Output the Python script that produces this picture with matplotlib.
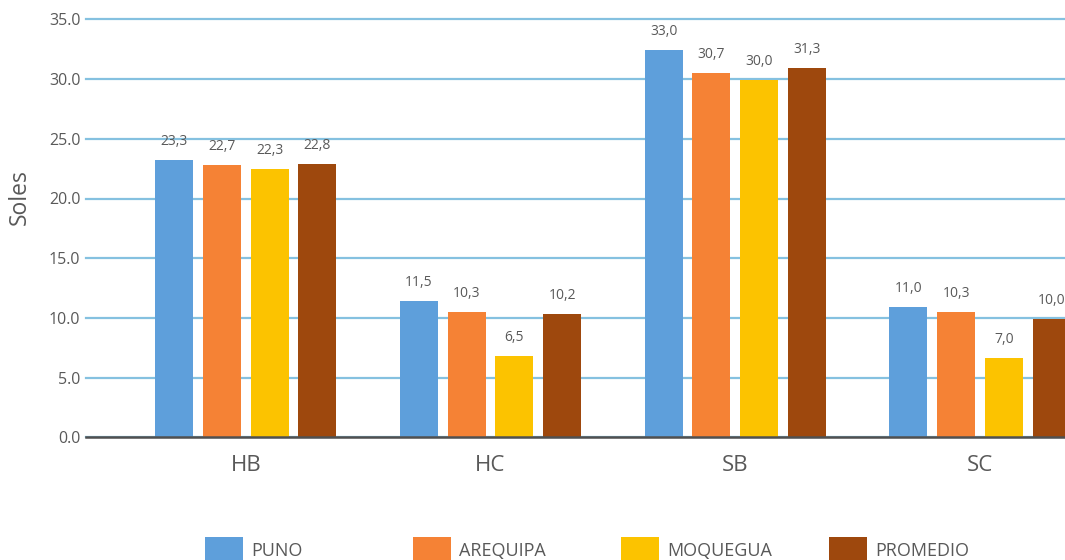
import matplotlib
matplotlib.use("Agg")
import matplotlib.pyplot as plt
from matplotlib.patches import Patch
import numpy as np

plt.rcParams['font.family'] = ['Open Sans', 'DejaVu Sans']

categories = ["HB", "HC", "SB", "SC"]
series = ["PUNO", "AREQUIPA", "MOQUEGUA", "PROMEDIO"]
# bar heights as drawn
values = {
    "PUNO":     [23.2, 11.4, 32.4, 10.9],
    "AREQUIPA": [22.8, 10.5, 30.5, 10.5],
    "MOQUEGUA": [22.5, 6.8, 29.9, 6.6],
    "PROMEDIO": [22.9, 10.3, 30.9, 9.9],
}
# data labels as printed
labels = {
    "PUNO":     ["23,3", "11,5", "33,0", "11,0"],
    "AREQUIPA": ["22,7", "10,3", "30,7", "10,3"],
    "MOQUEGUA": ["22,3", "6,5", "30,0", "7,0"],
    "PROMEDIO": ["22,8", "10,2", "31,3", "10,0"],
}
colors = {"PUNO": "#5E9FDB", "AREQUIPA": "#F58235", "MOQUEGUA": "#FCC300", "PROMEDIO": "#9E480D"}
yticks = [0, 5, 10, 15, 20, 25, 30, 35]

W, H = 1065, 560
fig = plt.figure(figsize=(W / 100, H / 100), dpi=100)
ax = fig.add_axes([86 / W, (H - 437.3) / H, (W - 86) / W, (437.3 - 19.4) / H])

txt = "#595959"
x = np.arange(len(categories))
step = 0.195
bw = 0.1553
for i, s in enumerate(series):
    pos = x + (i - 1.5) * step
    bars = ax.bar(pos, values[s], width=bw, color=colors[s], zorder=3)
    for b, lab in zip(bars, labels[s]):
        ax.annotate(lab, (b.get_x() + b.get_width() / 2, b.get_height()),
                    xytext=(0, 8), textcoords="offset points",
                    ha="center", va="bottom", fontsize=10, color=txt)

ax.set_xlim(-0.6528, 3.347)
ax.set_ylim(0, 35)
ax.set_yticks(yticks)
ax.set_yticklabels([f"{v:.1f}" for v in yticks])
ax.set_xticks(x)
ax.set_xticklabels(categories)
ax.tick_params(axis="y", length=0, pad=4, labelsize=11.5, labelcolor=txt)
ax.tick_params(axis="x", length=0, pad=13, labelsize=16, labelcolor=txt)
ax.grid(axis="y", color="#85C1E0", linewidth=1.6, zorder=0)
for gl in ax.get_ygridlines():
    gl.set_clip_on(False)
ax.set_axisbelow(True)
for sp in ["left", "right", "top"]:
    ax.spines[sp].set_visible(False)
ax.spines["bottom"].set_color("#505050")
ax.spines["bottom"].set_linewidth(1.8)
ax.spines["bottom"].set_zorder(4)

ax.set_ylabel("Soles", fontsize=16.5, color=txt)
ax.yaxis.set_label_coords((20 - 86) / (W - 86), (437.3 - 197) / (437.3 - 19.4))
ax.yaxis.label.set_va("center")

# legend entries in fixed-width columns
x0 = 205
colstep = 208
for i, s in enumerate(series):
    leg = fig.legend([Patch(facecolor=colors[s])], [s], loc="center left",
                     bbox_to_anchor=((x0 + i * colstep) / W, (H - 550) / H),
                     frameon=False, fontsize=13, handlelength=2.1, handleheight=1.9,
                     handletextpad=0.45, borderpad=0, borderaxespad=0)
    for t in leg.get_texts():
        t.set_color(txt)

fig.savefig("out.png", dpi=100)
